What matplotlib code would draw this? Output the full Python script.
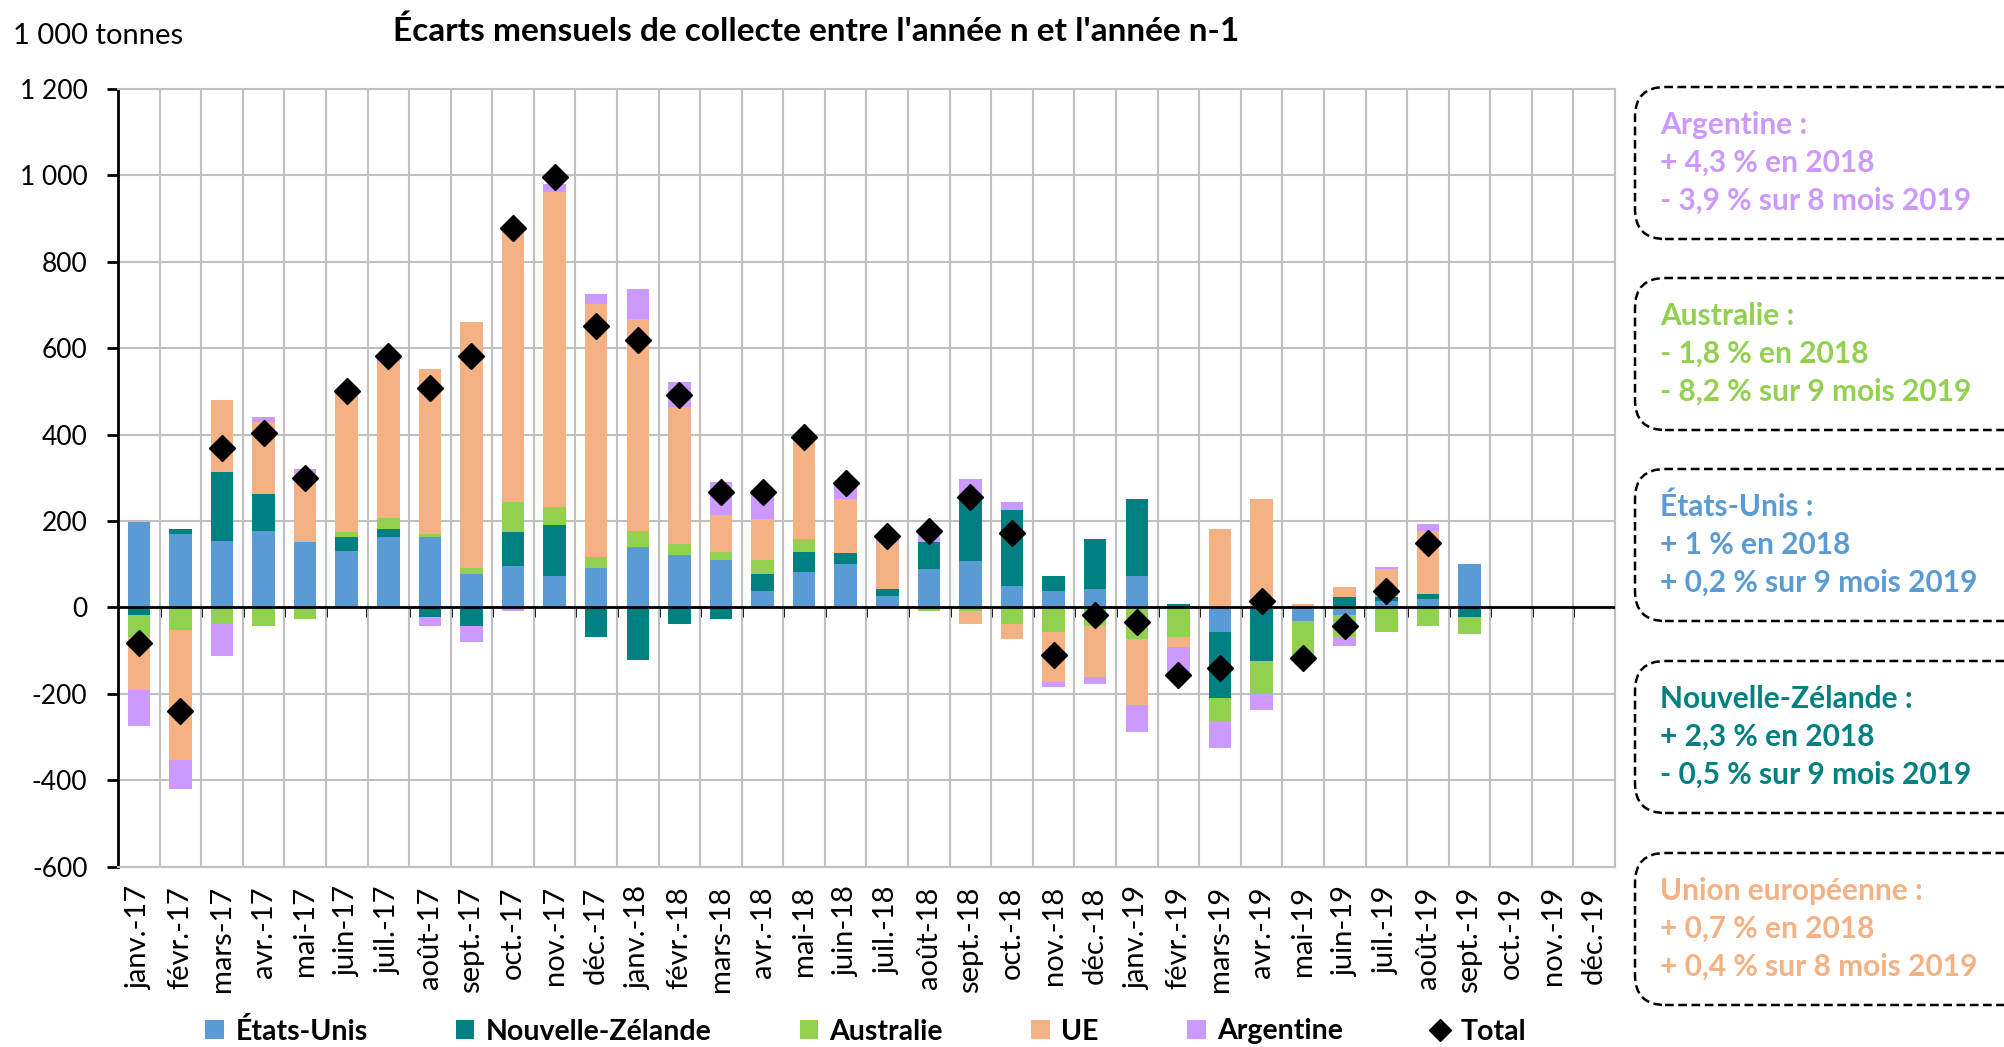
import numpy as np
import matplotlib.pyplot as plt
from matplotlib.patches import Patch, FancyBboxPatch
from matplotlib.lines import Line2D
from matplotlib.ticker import FuncFormatter, FixedLocator, NullFormatter

plt.rcParams['font.family'] = ['Lato', 'DejaVu Sans']

nan = np.nan

# mois, de janv.-17 a dec.-19
mois = ['janv.-17', 'févr.-17', 'mars-17', 'avr.-17', 'mai-17', 'juin-17',
        'juil.-17', 'août-17', 'sept.-17', 'oct.-17', 'nov.-17', 'déc.-17',
        'janv.-18', 'févr.-18', 'mars-18', 'avr.-18', 'mai-18', 'juin-18',
        'juil.-18', 'août-18', 'sept.-18', 'oct.-18', 'nov.-18', 'déc.-18',
        'janv.-19', 'févr.-19', 'mars-19', 'avr.-19', 'mai-19', 'juin-19',
        'juil.-19', 'août-19', 'sept.-19', 'oct.-19', 'nov.-19', 'déc.-19']

# ecarts en 1 000 tonnes
etats_unis = [198, 170, 153, 177, 152, 130, 164, 164, 77, 95, 72, 92,
              140, 122, 110, 37, 83, 101, 27, 89, 107, 49, 37, 42,
              72, 0, -56, 0, -32, -17, 15, 19, 101, nan, nan, nan]
nouvelle_zelande = [-17, 12, 161, 85, 0, 32, 18, -23, -44, 79, 120, -68,
                    -121, -38, -26, 40, 45, 24, 15, 63, 146, 177, 36, 116,
                    178, 7, -154, -125, 0, 25, 9, 12, -23, nan, nan, nan]
australie = [-51, -51, -38, -44, -26, 12, 24, 5, 15, 70, 40, 24,
             36, 24, 18, 33, 30, 0, 0, -8, -8, -38, -56, -44,
             -74, -68, -53, -76, -89, -51, -56, -44, -39, nan, nan, nan]
ue = [-122, -301, 167, 168, 160, 319, 362, 383, 568, 637, 729, 586,
      492, 318, 87, 95, 230, 126, 110, 0, -30, -36, -116, -116,
      -151, -24, 181, 250, 7, 23, 64, 145, 0, nan, nan, nan]
argentine = [-85, -69, -75, 11, 8, 6, 12, -21, -36, -9, 20, 24,
             69, 59, 76, 59, 5, 38, 12, 30, 44, 18, -12, -18,
             -63, -70, -63, -36, 0, -21, 6, 18, 0, nan, nan, nan]
total = [-82, -240, 369, 403, 300, 502, 583, 508, 583, 879, 996, 652,
         618, 492, 267, 267, 395, 288, 166, 178, 255, 173, -111, -17,
         -34, -157, -139, 15, -117, -42, 39, 149, nan, nan, nan, nan]

series = ['États-Unis', 'Nouvelle-Zélande', 'Australie', 'UE', 'Argentine']
valeurs = [etats_unis, nouvelle_zelande, australie, ue, argentine]
couleurs = ['#5B9BD5', '#008080', '#92D050', '#F4B183', '#CC99FF']

# encadres de droite
encadres = [
    ['Argentine :', '+ 4,3 % en 2018', '- 3,9 % sur 8 mois 2019'],
    ['Australie :', '- 1,8 % en 2018', '- 8,2 % sur 9 mois 2019'],
    ['États-Unis :', '+ 1 % en 2018', '+ 0,2 % sur 9 mois 2019'],
    ['Nouvelle-Zélande :', '+ 2,3 % en 2018', '- 0,5 % sur 9 mois 2019'],
    ['Union européenne :', '+ 0,7 % en 2018', '+ 0,4 % sur 8 mois 2019'],
]
couleurs_encadres = ['#CC99FF', '#92D050', '#5B9BD5', '#008080', '#F4B183']

W, H = 2004, 1047
fig = plt.figure(figsize=(W / 100, H / 100), dpi=100)
ax = fig.add_axes([118 / W, 1 - 866.7 / H, 1497 / W, 777.7 / H])

x = np.arange(len(mois))
pos = np.zeros(len(mois))
neg = np.zeros(len(mois))
for nom, vals, c in zip(series, valeurs, couleurs):
    v = np.nan_to_num(np.array(vals, dtype=float))
    bas = np.where(v >= 0, pos, neg)
    ax.bar(x, v, width=0.54, bottom=bas, color=c, linewidth=0, zorder=3)
    pos = pos + np.where(v > 0, v, 0)
    neg = neg + np.where(v < 0, v, 0)

ax.plot(x, total, linestyle='none', marker='D', markersize=13,
        color='black', zorder=5)

ax.set_xlim(-0.5, len(mois) - 0.5)
ax.set_ylim(-600, 1200)
ax.set_yticks(np.arange(-600, 1201, 200))
ax.yaxis.set_major_formatter(FuncFormatter(
    lambda v, p: f'{int(v):,}'.replace(',', ' ')))
ax.set_xticks(x)
ax.set_xticklabels(mois, rotation=90, fontsize=21)
ax.xaxis.set_minor_locator(FixedLocator(np.arange(-0.5, len(mois), 1)))
ax.tick_params(axis='x', which='both', length=0, pad=14)
ax.tick_params(axis='y', labelsize=19, length=8, width=2, pad=14,
               direction='out')

ax.grid(which='minor', axis='x', color='#C0C0C0', linewidth=1.5, zorder=0)
ax.grid(which='major', axis='y', color='#C0C0C0', linewidth=1.5, zorder=0)
ax.grid(which='major', axis='x', visible=False)
for s in ['top', 'right', 'bottom']:
    ax.spines[s].set_color('#C0C0C0')
    ax.spines[s].set_linewidth(1.5)
ax.spines['left'].set_linewidth(2)
ax.set_axisbelow(True)

# axe horizontal au niveau zero, avec graduations entre les mois
ax.axhline(0, color='black', linewidth=2, zorder=4)
sec = ax.secondary_xaxis(600 / 1800)
sec.set_xticks(np.arange(0.5, len(mois) - 0.5, 1))
sec.xaxis.set_major_formatter(NullFormatter())
sec.tick_params(length=7, width=2, direction='out')
sec.spines['bottom'].set_visible(False)
sec.spines['top'].set_visible(False)
sec.xaxis.set_ticks_position('bottom')

fig.text(816 / W, 1 - 31 / H,
         "Écarts mensuels de collecte entre l'année n et l'année n-1",
         ha='center', va='center', fontsize=24, fontweight='bold')
fig.text(13 / W, 1 - 36 / H, '1 000 tonnes', ha='left', va='center',
         fontsize=21)

handles = [Patch(facecolor=c, edgecolor='none') for c in couleurs]
handles.append(Line2D([], [], linestyle='none', marker='D', color='black',
                      markersize=11))
fig.legend(handles, series + ['Total'], loc='center',
           bbox_to_anchor=(866 / W, 1 - 1031 / H), ncol=6, frameon=False,
           handlelength=0.65, handleheight=0.65, handletextpad=0.4,
           columnspacing=3.1, prop={'weight': 'bold', 'size': 20.5})

# encadres arrondis en pointilles
px = fig.dpi_scale_trans
hauts = [87, 278, 469, 661, 853]
for haut, lignes, c in zip(hauts, encadres, couleurs_encadres):
    bas_box = (H - haut - 152) / 100
    box = FancyBboxPatch((1635 / 100, bas_box), 4.0, 1.52,
                         boxstyle='round,pad=0,rounding_size=0.3',
                         transform=px, facecolor='white', edgecolor='black',
                         linewidth=1.8, linestyle=(0, (3.5, 1.8)),
                         clip_on=False)
    fig.patches.append(box)
    for i, t in enumerate(lignes):
        fig.text(1660 / W, 1 - (haut + 38 + 38 * i) / H, t, ha='left',
                 va='center', fontsize=21.5, fontweight='bold', color=c)

fig.savefig('out.png', dpi=100)
